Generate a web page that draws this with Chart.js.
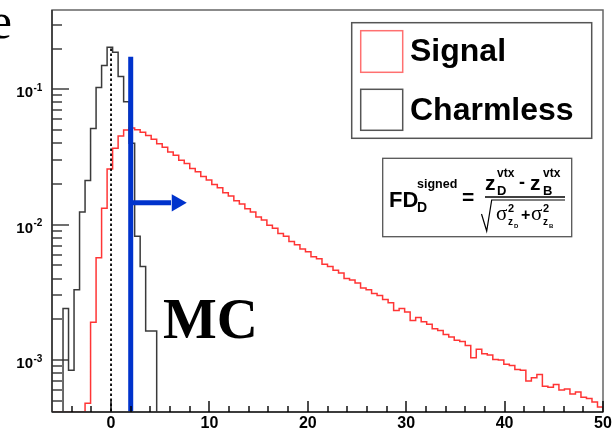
<!DOCTYPE html>
<html>
<head>
<meta charset="utf-8">
<script src="https://cdn.jsdelivr.net/npm/chart.js@4"></script>
<style>
  html, body { margin: 0; padding: 0; background: #fff; }
</style>
</head>
<body>
<canvas id="c" width="613" height="431"></canvas>
<script>
/* FD_D^signed distributions, Signal vs Charmless (MC), ROOT style */

// binning of both histograms
const X_MIN = -6;
const X_MAX = 50;
const N_BINS = 100;
const Y_MIN = 4.13e-4;
const Y_MAX = 0.385;

const SERIES_LABELS = ['Signal', 'Charmless'];

// bin contents, bin 0 starts at X_MIN
const signal = [
  0, 0, 0, 0, 0, 0, 0.00048, 0.0019, 0.0057, 0.0132,
  0.0258, 0.0367, 0.0452, 0.0500, 0.0518, 0.0502, 0.0481, 0.0455, 0.0428, 0.0396,
  0.0373, 0.0344, 0.0325, 0.0299, 0.0283, 0.0260, 0.0246, 0.0227, 0.0214, 0.0198,
  0.0187, 0.0172, 0.0163, 0.0150, 0.0142, 0.0131, 0.0124, 0.0114, 0.0108, 0.0099,
  0.0094, 0.0086, 0.0082, 0.0075, 0.0071, 0.0066, 0.0063, 0.0058, 0.0056, 0.0051,
  0.0049, 0.0046, 0.0044, 0.0040, 0.0039, 0.0037, 0.0034, 0.0033, 0.0031, 0.0030,
  0.0028, 0.00265, 0.00232, 0.00240, 0.00226, 0.00196, 0.00206, 0.00192, 0.00184, 0.00170,
  0.00165, 0.00154, 0.00148, 0.00140, 0.00137, 0.00128, 0.00104, 0.00120, 0.00111, 0.00109,
  0.00101, 0.00100, 0.00093, 0.00091, 0.00085, 0.00084, 0.00070, 0.00074, 0.00078, 0.00064,
  0.00063, 0.00066, 0.00060, 0.00061, 0.00056, 0.00058, 0.00053, 0.00052, 0.00049, 0.00045,
];
// only the first bins are filled, the rest are empty
const charmless = [
  0, 0, 0.0024, 0.00084, 0.0033, 0.0124, 0.0212, 0.0512, 0.103, 0.150,
  0.204, 0.188, 0.124, 0.081, 0.040, 0.0082, 0.0049, 0.00164, 0.00164,
];

const cutX = 2;            // blue cut line
const cutTop = 0.174;
const arrowY = 0.0145;
const arrowShaft = [2.2, 6.1];
const arrowTip = 6.68;
const zeroLineTop = 0.2;   // dashed line at x = 0

const X_TICK_LABELS = [0, 10, 20, 30, 40, 50];
const Y_TICK_EXPONENTS = [-3, -2, -1];

const BELOW = 1e-5; // empty bins drawn under the frame, clipped away

function histPoints(vals, empty) {
  const w = (X_MAX - X_MIN) / N_BINS;
  const pts = [];
  for (let i = 0; i < N_BINS; i++) {
    const v = vals[i] || 0;
    pts.push({ x: X_MIN + i * w, y: v > 0 ? v : empty });
  }
  pts.push({ x: X_MAX, y: BELOW });
  return pts;
}

/* ── ROOT-like frame, ticks, legend and text ─────────────────────── */
function txt(ctx, s, x, y, size, opts = {}) {
  ctx.font = `${opts.weight || 'bold'} ${size}px ${opts.family || '"Liberation Sans", Arial, sans-serif'}`;
  ctx.textAlign = opts.align || 'left';
  ctx.textBaseline = 'alphabetic';
  ctx.fillStyle = opts.color || '#000';
  ctx.fillText(s, x, y);
}

function seg(ctx, x1, y1, x2, y2) {
  ctx.beginPath(); ctx.moveTo(x1, y1); ctx.lineTo(x2, y2); ctx.stroke();
}

const decor = {
  id: 'decor',
  afterDraw(chart) {
    const { ctx, chartArea: a, scales: { x, y } } = chart;
    ctx.save();
    ctx.setLineDash([]);

    // frame
    ctx.strokeStyle = '#666'; ctx.lineWidth = 1.5;
    ctx.strokeRect(a.left, a.top, a.right - a.left, a.bottom - a.top);
    ctx.strokeStyle = '#222'; ctx.lineWidth = 1.3;
    seg(ctx, a.left, a.top, a.left, a.bottom);
    seg(ctx, a.left, a.bottom, a.right, a.bottom);

    // y ticks (inside the frame)
    ctx.fillStyle = '#333';
    for (let e = -4; e <= -1; e++) {
      for (let m = 1; m <= 9; m++) {
        const v = m * Math.pow(10, e);
        if (v < Y_MIN || v > Y_MAX) continue;
        const py = Math.round(y.getPixelForValue(v));
        ctx.fillRect(a.left, py - 0.7, m === 1 ? 17 : 10, 1.4);
      }
    }
    Y_TICK_EXPONENTS.forEach(e => {
      const py = y.getPixelForValue(Math.pow(10, e));
      txt(ctx, '10', 33, py + 8, 15, { align: 'right' });
      txt(ctx, String(e), 33.5, py + 1.5, 10);
    });

    // x ticks (inside the frame)
    for (let v = -4; v <= X_MAX; v += 2) {
      const px = Math.round(x.getPixelForValue(v));
      const len = v % 10 === 0 ? 11 : 6;
      ctx.fillRect(px - 0.7, a.bottom - len, 1.4, len);
    }
    X_TICK_LABELS.forEach(v => {
      txt(ctx, String(v), x.getPixelForValue(v), 428, 16, { align: 'center' });
    });

    // legend
    const ds = chart.data.datasets;
    ctx.strokeStyle = '#555'; ctx.lineWidth = 1.5;
    ctx.strokeRect(351.7, 22.7, 240, 115.6);
    ctx.strokeStyle = '#ff7070'; ctx.lineWidth = 1.5;
    ctx.strokeRect(360.7, 30.7, 42, 41.6);
    ctx.strokeStyle = '#555';
    ctx.strokeRect(360.7, 89.3, 42, 41);
    txt(ctx, ds[0].label, 410, 61, 32);
    txt(ctx, ds[1].label, 410, 120, 32);

    // formula box
    ctx.strokeStyle = '#555'; ctx.lineWidth = 1.3;
    ctx.strokeRect(382.7, 158.3, 189, 78.4);
    txt(ctx, 'FD', 389, 207, 22);
    txt(ctx, 'signed', 417, 188, 12.5);
    txt(ctx, 'D', 417, 212, 14);
    txt(ctx, '=', 462, 204, 21);
    txt(ctx, 'z', 485, 190, 21);
    txt(ctx, 'vtx', 497, 177, 12);
    txt(ctx, 'D', 497, 195, 13);
    txt(ctx, '-', 519, 188, 18);
    txt(ctx, 'z', 530, 190, 21);
    txt(ctx, 'vtx', 543, 177, 12);
    txt(ctx, 'B', 543, 195, 13);
    ctx.strokeStyle = '#000'; ctx.lineWidth = 1.5;
    seg(ctx, 485, 197, 565, 197);
    ctx.lineWidth = 1.2;
    ctx.beginPath();
    ctx.moveTo(481.5, 214); ctx.lineTo(486.7, 231); ctx.lineTo(491.7, 200); ctx.lineTo(565, 200);
    ctx.stroke();
    const serif = '"Liberation Serif", "Times New Roman", serif';
    txt(ctx, 'σ', 496, 220, 21, { weight: 'normal', family: serif });
    txt(ctx, '2', 508, 212, 11);
    txt(ctx, 'z', 508, 225, 10);
    txt(ctx, 'D', 514, 228, 6);
    txt(ctx, '+', 521, 220, 16);
    txt(ctx, 'σ', 531, 220, 21, { weight: 'normal', family: serif });
    txt(ctx, '2', 543, 212, 11);
    txt(ctx, 'z', 543, 225, 10);
    txt(ctx, 'B', 549, 228, 6);

    // page text around the plot
    txt(ctx, 'MC', 163, 338, 57, { family: serif });
    ctx.font = `normal 50px ${serif}`;
    const ew = ctx.measureText('e').width;
    txt(ctx, 'e', 12 - ew, 38, 50, { weight: 'normal', family: serif });

    ctx.restore();
  }
};

new Chart(document.getElementById('c'), {
  type: 'line',
  data: {
    datasets: [
      {
        label: SERIES_LABELS[0],
        data: histPoints(signal, Y_MIN),
        borderColor: '#ff3535',
        borderWidth: 1.5,
        stepped: true,
        pointRadius: 0,
        order: 3,
      },
      {
        label: SERIES_LABELS[1],
        data: histPoints(charmless, BELOW),
        borderColor: '#3a3a3a',
        borderWidth: 1.5,
        stepped: true,
        pointRadius: 0,
        order: 2,
      },
      {
        label: 'x = 0',
        data: [{ x: 0, y: zeroLineTop }, { x: 0, y: BELOW }],
        borderColor: '#000',
        borderWidth: 1.8,
        borderDash: [2.5, 2.5],
        pointRadius: 0,
        order: 1,
      },
      {
        label: 'cut',
        data: [{ x: cutX, y: cutTop }, { x: cutX, y: BELOW }],
        borderColor: '#0033cc',
        borderWidth: 5,
        pointRadius: 0,
        order: 0,
      },
      {
        label: 'arrow',
        data: [{ x: arrowShaft[0], y: arrowY }, { x: arrowShaft[1], y: arrowY }],
        borderColor: '#0033cc',
        borderWidth: 5,
        pointRadius: 0,
        order: 0,
      },
      {
        label: 'arrow head',
        data: [{ x: arrowTip, y: arrowY }],
        showLine: false,
        pointStyle: 'triangle',
        rotation: 90,
        pointRadius: 10,
        pointBorderWidth: 0,
        pointBackgroundColor: '#0033cc',
        order: 0,
      },
    ],
  },
  options: {
    responsive: false,
    animation: false,
    events: [],
    layout: { padding: { left: 52, right: 10, top: 10, bottom: 19 } },
    scales: {
      x: { type: 'linear', min: X_MIN, max: X_MAX, display: false },
      y: { type: 'logarithmic', min: Y_MIN, max: Y_MAX, display: false },
    },
    plugins: { legend: { display: false }, tooltip: { enabled: false } },
  },
  plugins: [decor],
});
</script>
</body>
</html>
